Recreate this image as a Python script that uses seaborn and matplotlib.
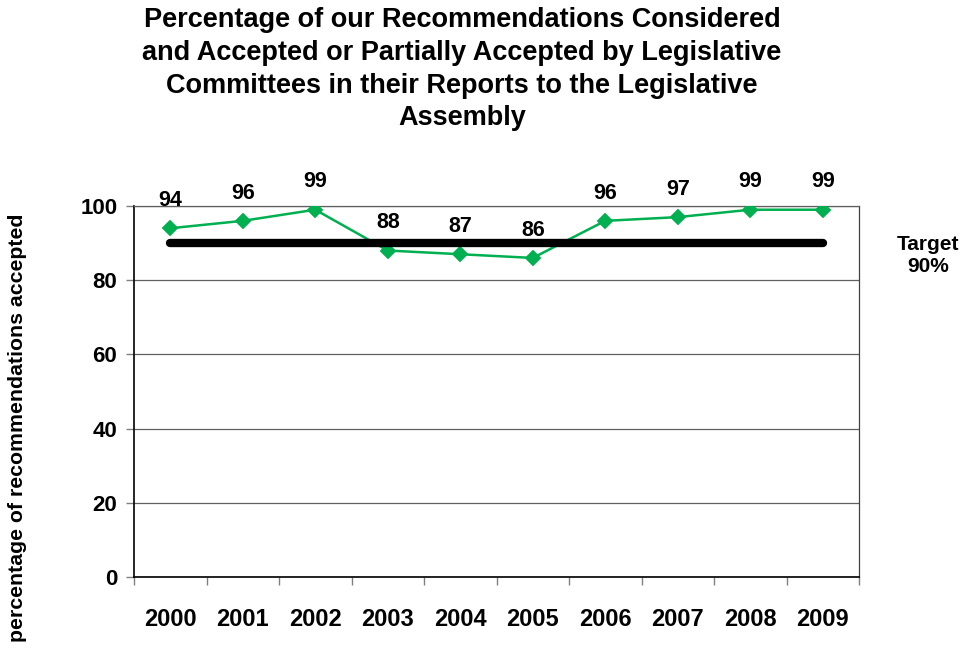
import matplotlib
matplotlib.use("Agg")
import matplotlib.pyplot as plt
import seaborn as sns
import pandas as pd
import numpy as np

years = ["2000", "2001", "2002", "2003", "2004", "2005", "2006", "2007", "2008", "2009"]
values = [94, 96, 99, 88, 87, 86, 96, 97, 99, 99]
target = 90
yticks = [0, 20, 40, 60, 80, 100]
title = ("Percentage of our Recommendations Considered\n"
         "and Accepted or Partially Accepted by Legislative\n"
         "Committees in their Reports to the Legislative\n"
         "Assembly")
ylabel = "percentage of recommendations accepted"

sns.set_theme(style="white")
plt.rcParams['font.family'] = ['Liberation Sans', 'DejaVu Sans']
plt.rcParams['font.weight'] = 'bold'
plt.rcParams['text.color'] = 'black'
plt.rcParams['axes.labelcolor'] = 'black'
plt.rcParams['xtick.labelcolor'] = 'black'
plt.rcParams['ytick.labelcolor'] = 'black'

fig = plt.figure(figsize=(9.68, 6.49), dpi=100)
ax = fig.add_axes([134/968, 1-577/649, (859-134)/968, (577-206)/649])

df = pd.DataFrame({"year": years, "value": values})
green = "#00B050"
sns.pointplot(data=df, x="year", y="value", ax=ax, color=green, markers="D",
              linestyles="-", markersize=7.5, linewidth=1.8, zorder=3)

# target line
ax.plot([0, len(years)-1], [target, target], color="black", lw=6,
        solid_capstyle="round", zorder=4)

for i, v in enumerate(values):
    ax.annotate(str(v), (i, v), xytext=(0, 20), textcoords="offset points",
                ha="center", va="center", fontsize=15.5, fontweight="bold", color="black")

ax.set_xlim(-0.5, len(years)-0.5)
ax.set_ylim(0, 100)
ax.set_yticks(yticks)
ax.set_yticklabels([str(t) for t in yticks], fontsize=16, fontweight="bold", color="black")
ax.set_xticks(range(len(years)))
ax.set_xticklabels(years, fontsize=17, fontweight="bold", color="black")
ax.set_xticks(np.arange(-0.5, len(years), 1.0), minor=True)
ax.tick_params(axis="x", which="major", length=0, pad=22)
ax.tick_params(axis="x", which="minor", length=6, direction="out", color="#808080", width=1, bottom=True)
ax.tick_params(axis="y", which="major", length=6, direction="out", color="#808080", width=1, left=True, pad=6)
ax.set_xlabel("")
ax.set_ylabel("")
ax.yaxis.grid(True, color="#606060", lw=0.9)
ax.xaxis.grid(False)
for s in ["left", "bottom"]:
    ax.spines[s].set_color("black")
    ax.spines[s].set_linewidth(1.2)
ax.spines["right"].set_color("#404040")
ax.spines["right"].set_linewidth(0.9)
ax.spines["top"].set_color("#606060")
ax.spines["top"].set_linewidth(0.9)

fig.text(462/968, 1-7/649, title, ha="center", va="top", fontsize=19.5,
         fontweight="bold", linespacing=1.34, color="black")
fig.text(18/968, 1-428/649, ylabel, rotation=90, ha="center", va="center",
         fontsize=15.3, fontweight="bold", color="black")
fig.text(928/968, 1-256/649, "Target\n90%", ha="center", va="center",
         fontsize=15, fontweight="bold", linespacing=1.2, color="black")

fig.savefig("out.png", dpi=100)
